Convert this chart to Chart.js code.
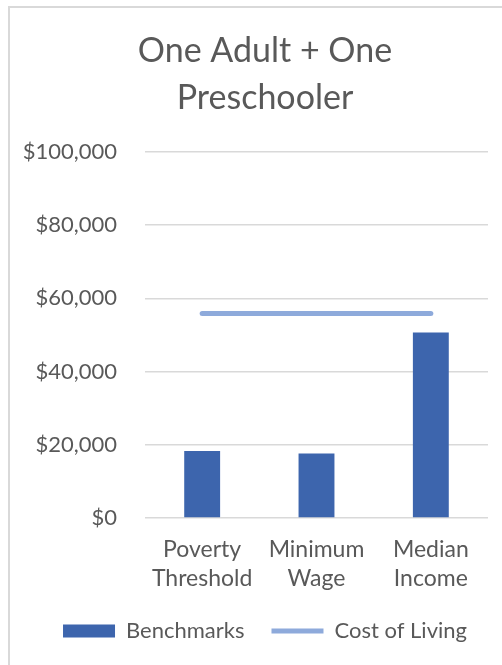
<!DOCTYPE html>
<html>
<head>
<meta charset="utf-8">
<script src="https://cdn.jsdelivr.net/npm/chart.js@4"></script>
<style>
  html, body { margin: 0; padding: 0; background: #fff; overflow: hidden; }
  #frame {
    position: absolute; left: 8px; top: 6px;
    width: 600px; height: 700px;
    border-left: 2px solid #d9d9d9; border-top: 2px solid #d9d9d9;
  }
  #wrap { position: absolute; left: 0; top: 0; width: 520px; height: 665px; }
</style>
</head>
<body>
<div id="frame"></div>
<div id="wrap"><canvas id="costChart" width="520" height="665"></canvas></div>
<script>
var categories = [['Poverty', 'Threshold'], ['Minimum', 'Wage'], ['Median', 'Income']];
var benchmarks = [18300, 17600, 50700];
var costOfLiving = [55900, 55900, 55900];
var yTicks = [0, 20000, 40000, 60000, 80000, 100000];

var textColor = '#595959';
var fontName = 'Lato';

function money(v) {
    return '$' + v.toLocaleString('en-US');
}

var ctx = document.getElementById('costChart');
var costChart = new Chart(ctx, {
    type: 'bar',
    data: {
        labels: categories,
        datasets: [
            {
                label: 'Benchmarks',
                data: benchmarks,
                backgroundColor: '#3d65ad',
                borderWidth: 0,
                categoryPercentage: 1,
                barPercentage: 0.314,
                pointStyle: 'rect'
            },
            {
                type: 'line',
                label: 'Cost of Living',
                data: costOfLiving,
                borderColor: '#8eaadb',
                backgroundColor: '#8eaadb',
                borderWidth: 5,
                borderCapStyle: 'round',
                pointRadius: 0,
                pointStyle: 'line'
            }
        ]
    },
    options: {
        responsive: false,
        animation: false,
        layout: { padding: { left: 10, right: 0, top: 0, bottom: 13 } },
        plugins: {
            title: {
                display: true,
                text: ['One Adult + One', 'Preschooler'],
                color: textColor,
                font: { family: fontName, size: 34, weight: 'normal', lineHeight: 1.382 },
                padding: { top: 27.5, bottom: 30.5 }
            },
            legend: {
                position: 'bottom',
                labels: {
                    color: textColor,
                    font: { family: fontName, size: 22 },
                    usePointStyle: true,
                    pointStyleWidth: 52,
                    boxHeight: 13,
                    padding: 27
                }
            },
            tooltip: { enabled: false }
        },
        scales: {
            x: {
                afterFit: function (scale) { scale.height = 75; },
                grid: { display: false, drawTicks: false },
                border: { display: false },
                ticks: {
                    color: textColor,
                    font: { family: fontName, size: 23, lineHeight: 1.25 },
                    padding: 17,
                    maxRotation: 0
                }
            },
            y: {
                min: 0,
                max: 100000,
                afterBuildTicks: function (scale) {
                    scale.ticks = yTicks.map(function (v) { return { value: v }; });
                },
                afterFit: function (scale) { scale.width = 135; },
                grid: { color: '#d9d9d9', lineWidth: 1.5, drawTicks: false },
                border: { display: false },
                ticks: {
                    color: textColor,
                    font: { family: fontName, size: 22 },
                    padding: 28,
                    callback: function (v) { return money(v); }
                }
            },
            // empty right side so the plot ends where the reference's does
            spacer: {
                position: 'right',
                afterFit: function (scale) { scale.width = 32; },
                grid: { display: false, drawTicks: false },
                border: { display: false },
                ticks: { display: false }
            }
        }
    }
});
</script>
</body>
</html>
